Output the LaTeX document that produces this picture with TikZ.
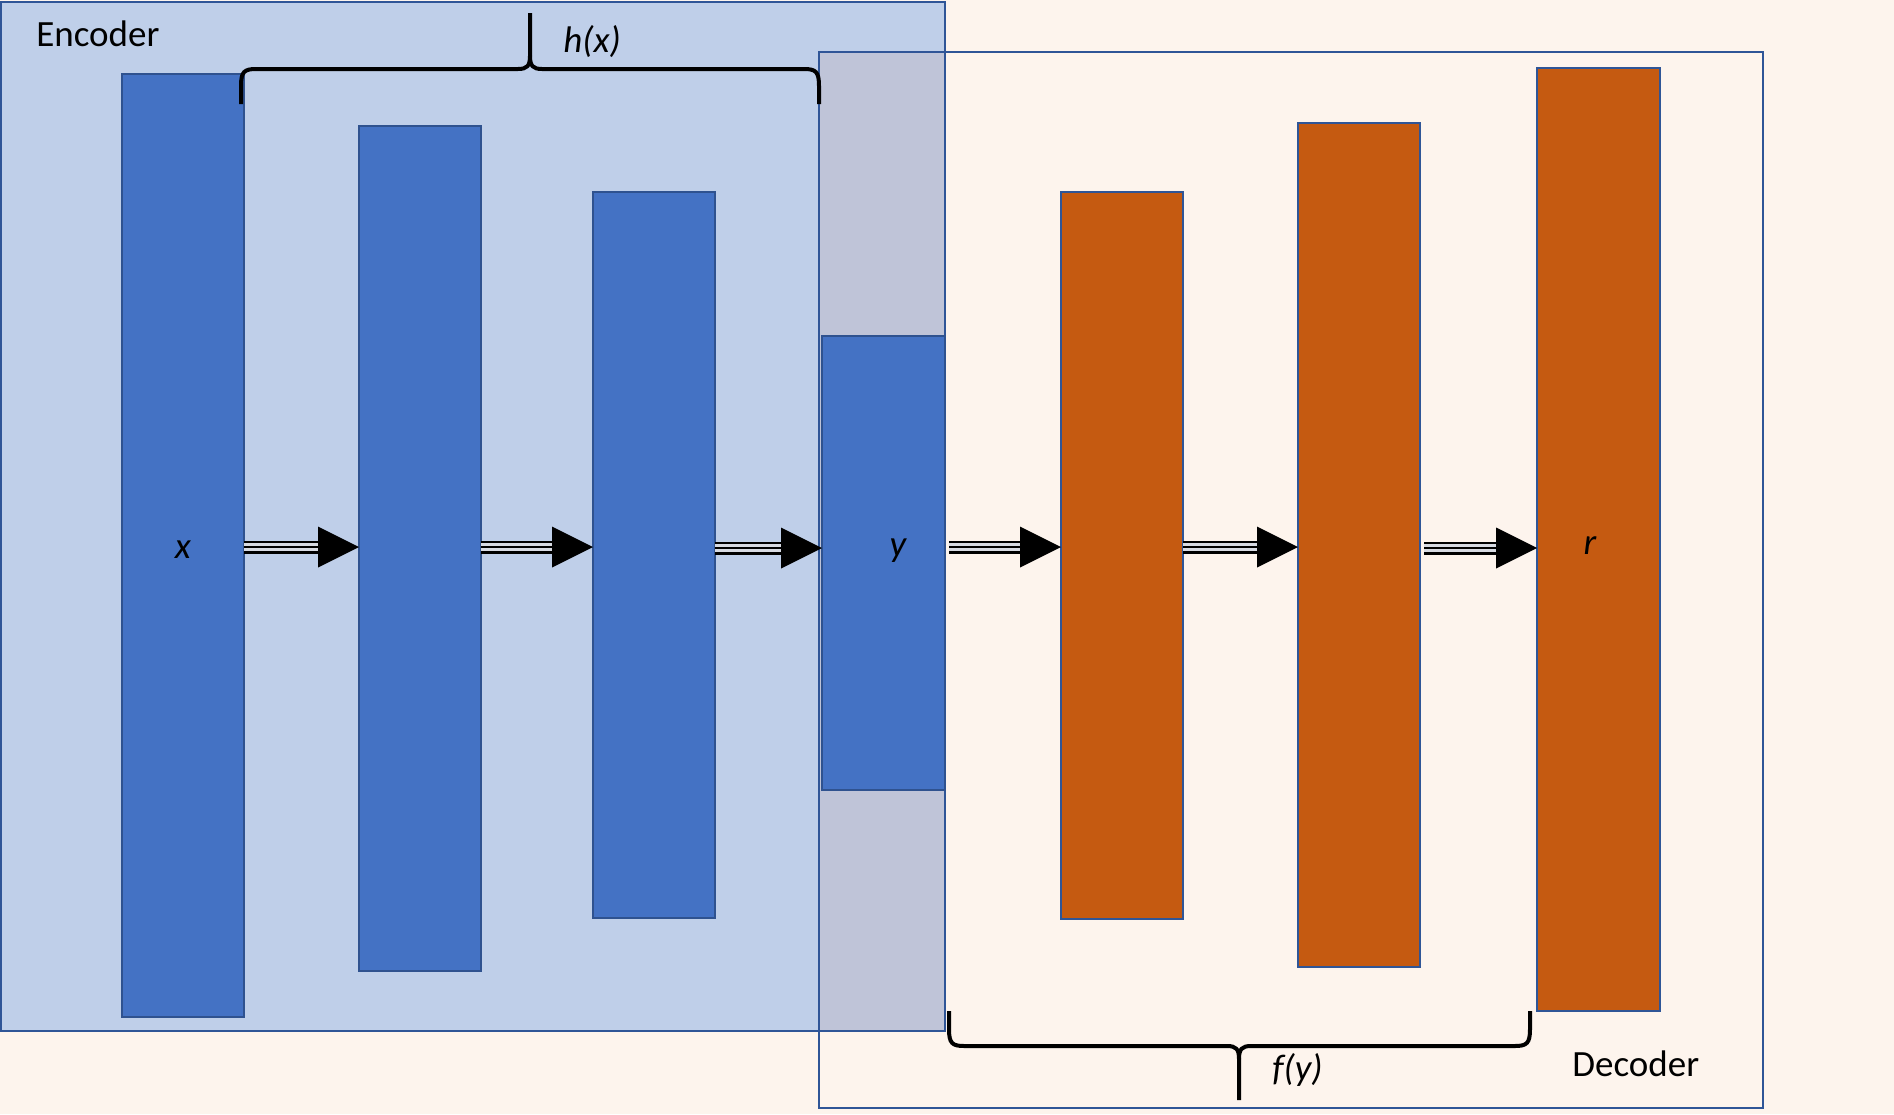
\documentclass[tikz,border=0pt]{standalone}
\usepackage{fontspec}
\setmainfont{Carlito}
\usetikzlibrary{fit,calc}
\definecolor{bgc}{RGB}{253,244,237}
\definecolor{encfill}{RGB}{191,207,233}
\definecolor{overlapc}{RGB}{191,196,216}
\definecolor{boxline}{RGB}{47,85,151}
\definecolor{bluebar}{RGB}{68,114,196}
\definecolor{bluebarline}{RGB}{47,82,143}
\definecolor{orangebar}{RGB}{197,90,17}
\definecolor{gapc}{RGB}{215,218,226}
\tikzset{
  panel/.style={draw=boxline, line width=1pt, inner sep=0pt, outer sep=0pt},
  bbar/.style={fill=bluebar, draw=bluebarline, line width=1pt, inner sep=0pt, outer sep=0pt},
  obar/.style={fill=orangebar, draw=boxline, line width=1pt, inner sep=0pt, outer sep=0pt},
  lbl/.style={inner sep=0pt, font=\fontsize{18.5}{22}\selectfont},
  ilbl/.style={inner sep=0pt, font=\fontsize{18.5}{22}\selectfont\itshape},
  bracestyle/.style={line width=2pt, line cap=butt, line join=round},
}
\newcommand\triarr[2]{%
  \draw[line width=6.5pt, shorten >=20.5pt] (#1) -- (#2);
  \draw[line width=4.3pt, draw=gapc, shorten >=20.5pt] (#1) -- (#2);
  \draw[line width=1.2pt, shorten >=20.5pt] (#1) -- (#2);
  \fill ($(#2)+(-41,-20.5)$) -- (#2) -- ($(#2)+(-41,20.5)$) -- cycle;}
\begin{document}
\begin{tikzpicture}[x=0.5pt,y=-0.5pt]
\useasboundingbox (0,0) rectangle (1894,1114);
\fill[bgc] (0,0) rectangle (1894,1114);
% encoder panel
\fill[encfill] (1,2) rectangle (945,1031);
\fill[overlapc] (819,52) rectangle (945,1031);
\node[panel, fit={(1,2) (945,1031)}] (enc) {};
\node[panel, fit={(819,52) (1763,1108)}] (dec) {};
% bars
\node[bbar, fit={(122,74) (244,1017)}] (b1) {};
\node[bbar, fit={(359,126) (481,971)}] (b2) {};
\node[bbar, fit={(593,192) (715,918)}] (b3) {};
\node[bbar, fit={(822,336) (945,790)}] (by) {};
\node[obar, fit={(1061,192) (1183,919)}] (b4) {};
\node[obar, fit={(1298,123) (1420,967)}] (b5) {};
\node[obar, fit={(1537,68) (1660,1011)}] (b6) {};
% labels
\node[lbl, anchor=base west] (enclbl) at (36,46) {Encoder};
\node[lbl, anchor=base west] (declbl) at (1572,1076) {Decoder};
\node[ilbl, anchor=base west] (hx) at (563,52) {h(x)};
\node[ilbl, anchor=base west] (fy) at (1272,1080) {f(y)};
\node[ilbl, anchor=base] (xl) at (183,558) {x};
\node[ilbl, anchor=base] (yl) at (898,556) {y};
\node[ilbl, anchor=base] (rl) at (1590,554) {r};
% arrows
\coordinate (ay) at (0,547);
\coordinate (ay2) at (0,548);
\triarr{b1.east |- ay}{b2.west |- ay}
\triarr{b2.east |- ay}{b3.west |- ay}
\triarr{b3.east |- ay2}{by.west |- ay2}
\coordinate (s4) at (949,547);
\triarr{s4}{b4.west |- ay}
\triarr{b4.east |- ay}{b5.west |- ay}
\coordinate (s6) at (1424,548);
\triarr{s6}{b6.west |- ay2}
% braces
\draw[bracestyle] (241,104) -- (241,86) .. controls (241,72) and (244,69) .. (256,69)
  -- (518,69) .. controls (527,69) and (530,66) .. (530,56) -- (530,13);
\draw[bracestyle] (819,104) -- (819,86) .. controls (819,72) and (816,69) .. (804,69)
  -- (542,69) .. controls (533,69) and (530,66) .. (530,56);
\draw[bracestyle] (949,1011) -- (949,1029) .. controls (949,1043) and (952,1046) .. (964,1046)
  -- (1227,1046) .. controls (1236,1046) and (1239,1049) .. (1239,1059) -- (1239,1100);
\draw[bracestyle] (1530,1011) -- (1530,1029) .. controls (1530,1043) and (1527,1046) .. (1515,1046)
  -- (1251,1046) .. controls (1242,1046) and (1239,1049) .. (1239,1059);
\end{tikzpicture}
\end{document}
